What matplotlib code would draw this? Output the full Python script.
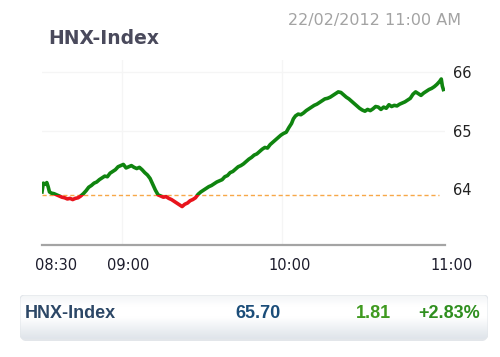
#!/usr/bin/env python3

import matplotlib
matplotlib.use('Agg')
import matplotlib.pyplot as plt
import matplotlib.patches as mpatches
import matplotlib.transforms as mtransforms
from matplotlib.colors import LinearSegmentedColormap
import numpy as np

TITLE = 'HNX-Index'
STAMP = '22/02/2012 11:00 AM'

# index values, minutes after 08:30
minutes = [0, 0.5, 1.2, 1.8, 2.3, 2.8, 3.5, 4.5, 5.5, 6.5, 7.5, 8.5, 9.5, 10.5, 11.5,
           12.5, 13.5, 14.5, 15.5, 16.5, 17.5, 18.5, 19.5, 20.5, 21.5, 22.5, 23.5,
           24.5, 25.5, 26.5, 27.5, 28.5, 29.5, 30.5, 31.5, 32.5, 33.5, 34.5, 35.5,
           36.5, 37.5, 38.5, 39.5, 40.5, 41.5, 42.5, 43.5, 44.5, 45.5, 46.5, 47.5,
           48.5, 49.5, 50.5, 51.5, 52.5, 53.5, 54.5, 55.5, 56.5, 57.5, 58.5, 59.5,
           60.5, 61.5, 62.5, 63.5, 64.5, 65.5, 66.5, 67.5, 68.5, 69.5, 70.5, 71.5,
           72.5, 73.5, 74.5, 75.5, 76.5, 77.5, 78.5, 79.5, 80.5, 81.5, 82.5, 83.5,
           84.5, 85.5, 86.5, 87.5, 88.5, 89.5, 90.5, 91.5, 92.5, 93.5, 94.2, 95,
           96, 97, 98, 99, 100, 101, 102, 103, 104, 105, 106, 107, 108, 109, 110,
           111, 112, 113, 114, 115, 116, 117, 118, 119, 120, 121, 122, 123, 124,
           125, 126, 127, 128, 129, 130, 131, 132, 133, 134, 135, 136, 137, 138,
           139, 140, 141, 142, 143, 144, 145, 146, 147, 148, 149, 149.6, 150, 150.4]
index = [63.95, 64.10, 64.08, 64.11, 64.04, 63.95, 63.93, 63.92, 63.90, 63.88, 63.86,
         63.85, 63.83, 63.84, 63.82, 63.84, 63.85, 63.88, 63.92, 63.97, 64.03, 64.06,
         64.10, 64.12, 64.16, 64.19, 64.22, 64.21, 64.27, 64.30, 64.33, 64.38, 64.40,
         64.42, 64.36, 64.38, 64.40, 64.37, 64.35, 64.37, 64.33, 64.28, 64.24, 64.18,
         64.08, 63.98, 63.90, 63.88, 63.86, 63.87, 63.84, 63.82, 63.79, 63.76, 63.73,
         63.70, 63.74, 63.76, 63.80, 63.82, 63.85, 63.91, 63.95, 63.98, 64.01, 64.04,
         64.06, 64.09, 64.12, 64.14, 64.16, 64.21, 64.23, 64.28, 64.30, 64.34, 64.38,
         64.40, 64.43, 64.47, 64.51, 64.54, 64.58, 64.60, 64.64, 64.68, 64.71, 64.70,
         64.76, 64.80, 64.84, 64.88, 64.92, 64.95, 64.97, 65.05, 65.12, 65.20, 65.25,
         65.28, 65.27, 65.30, 65.34, 65.37, 65.40, 65.43, 65.45, 65.48, 65.51, 65.54,
         65.55, 65.57, 65.60, 65.63, 65.66, 65.65, 65.61, 65.57, 65.54, 65.50, 65.46,
         65.42, 65.38, 65.35, 65.33, 65.36, 65.34, 65.37, 65.41, 65.40, 65.36, 65.40,
         65.38, 65.44, 65.41, 65.43, 65.42, 65.45, 65.47, 65.49, 65.52, 65.55, 65.62,
         65.66, 65.63, 65.60, 65.64, 65.67, 65.70, 65.72, 65.75, 65.79, 65.84, 65.88,
         65.76, 65.70]

last_value = 65.70
change = 1.81
change_pct = 2.83
ref_value = last_value - change

tick_minutes = [0, 30, 90, 150]
tick_labels = ['08:30', '09:00', '10:00', '11:00']
yticks = [64, 65, 66]

W, H = 500, 357
fig = plt.figure(figsize=(W / 100, H / 100), dpi=100)
fig.patch.set_facecolor('white')

ax = fig.add_axes([42 / W, (H - 245) / H, 403 / W, 185 / H])
ymin, ymax = 63.043, 66.205
xmin, xmax = 0, 151
ax.set_xlim(xmin, xmax)
ax.set_ylim(ymin, ymax)

green = '#0f840f'
red = '#e8141c'
x = np.array(minutes)
y = np.array(index)
up, = ax.plot(x, y, color=green, lw=2.6, solid_joinstyle='round', zorder=4)
down, = ax.plot(x, y, color=red, lw=2.6, solid_joinstyle='round', zorder=4)
up.set_clip_path(mpatches.Rectangle((xmin, ref_value), xmax - xmin, ymax - ref_value,
                                    transform=ax.transData))
down.set_clip_path(mpatches.Rectangle((xmin, ymin), xmax - xmin, ref_value - ymin,
                                      transform=ax.transData))

ax.axhline(ref_value, xmax=0.985, color='#f7a848', lw=1.0, dashes=(3, 2), zorder=3)

# faint grid
for v in [65, 66]:
    ax.axhline(v, color='#f5f5f5', lw=1, zorder=1)
for t in [30, 90]:
    ax.axvline(t, color='#f5f5f5', lw=1, zorder=1)

for side in ['top', 'left', 'right']:
    ax.spines[side].set_visible(False)
ax.spines['bottom'].set_color('#a4a4a4')
ax.spines['bottom'].set_linewidth(1.6)

ax.yaxis.tick_right()
ax.set_yticks(yticks)
ax.set_yticklabels([str(v) for v in yticks])
ax.tick_params(axis='y', length=0, pad=6, labelsize=10.5, labelcolor='#222222')
ax.set_xticks(tick_minutes)
ax.set_xticklabels(tick_labels)
ax.tick_params(axis='x', length=0, pad=9, labelsize=10.5, labelcolor='#1c1c2c')
for lbl, dx in zip(ax.get_xticklabels(), [14, 6, 7, 9]):
    lbl.set_transform(lbl.get_transform() +
                      mtransforms.ScaledTranslation(dx / 100, 0, fig.dpi_scale_trans))

fig.text(48 / W, 1 - 39 / H, TITLE, fontsize=13.5, fontweight='bold',
         color='#4a4a5c', va='center', ha='left')
fig.text(461 / W, 1 - 20 / H, STAMP, fontsize=11.5, color='#a3a3a3',
         va='center', ha='right')

# summary bar
bw, bh = 468, 44
bar = fig.add_axes([20 / W, (H - 339) / H, bw / W, bh / H])
bar.set_xlim(0, bw)
bar.set_ylim(0, bh)
bar.axis('off')
shadow = mpatches.FancyBboxPatch((1, -2), bw - 2, bh, boxstyle='round,pad=0,rounding_size=5',
                                 facecolor='#e3e6ea', edgecolor='none', clip_on=False)
bar.add_patch(shadow)
box = mpatches.FancyBboxPatch((0, 0), bw, bh, boxstyle='round,pad=0,rounding_size=5',
                              facecolor='none', edgecolor='#e2e6ea', lw=0.8, zorder=3)
bar.add_patch(box)
cmap = LinearSegmentedColormap.from_list('bar', ['#dfe4ea', '#eef1f4', '#ffffff', '#ffffff', '#f3f5f7'])
grad = bar.imshow(np.linspace(0, 1, 100).reshape(-1, 1), extent=(0, bw, 0, bh),
                  origin='lower', cmap=cmap, aspect='auto', zorder=2)
grad.set_clip_path(box)

bar.text(5, 25, TITLE, fontsize=13, fontweight='bold', color='#2c4766',
         family='Liberation Sans', va='center', ha='left', zorder=4)
bar.text(261, 25, '%.2f' % last_value, fontsize=13, fontweight='bold', color='#1b4d79',
         family='Liberation Sans', va='center', ha='right', zorder=4)
bar.text(371, 25, '%.2f' % change, fontsize=13, fontweight='bold', color='#3f9a1f',
         family='Liberation Sans', va='center', ha='right', zorder=4)
bar.text(460, 25, '+%.2f%%' % change_pct, fontsize=13, fontweight='bold', color='#2f8f1f',
         family='Liberation Sans', va='center', ha='right', zorder=4)

fig.savefig('out.png', dpi=100)
